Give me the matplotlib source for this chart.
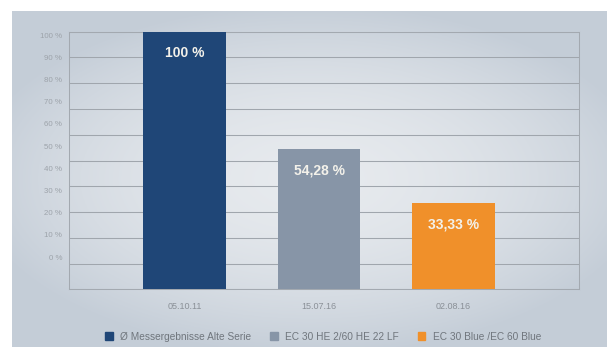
import numpy as np
import matplotlib.pyplot as plt
from matplotlib.patches import Patch

plt.rcParams['font.family'] = ['Liberation Sans', 'DejaVu Sans']

dates = ['05.10.11', '15.07.16', '02.08.16']
values = [100, 54.28, 33.33]
value_labels = ['100 %', '54,28 %', '33,33 %']
series = ['Ø Messergebnisse Alte Serie', 'EC 30 HE 2/60 HE 22 LF', 'EC 30 Blue /EC 60 Blue']
colors = ['#1f4677', '#8795a7', '#f0902a']
pct_ticks = list(range(0, 101, 10))
pct_labels = ['%d %%' % p for p in pct_ticks]

fig = plt.figure(figsize=(6.07, 3.47), dpi=100)

# background with soft radial gradient
bg = fig.add_axes([12 / 607, 0, 1 - 12 / 607, 1 - 11 / 347], zorder=-1)
yy, xx = np.mgrid[-1:1:200j, -1:1:350j]
r = np.sqrt((xx / 1.15) ** 2 + (yy / 1.05) ** 2)
light = np.array([0.905, 0.918, 0.933])
dark = np.array([0.770, 0.805, 0.845])
t = np.clip(r, 0, 1)[..., None] ** 1.8
img = light * (1 - t) + dark * t
bg.imshow(img, aspect='auto', extent=[0, 1, 0, 1])
bg.axis('off')

ax = fig.add_axes([69.3 / 607, 1 - 289.3 / 347, (579 - 69.3) / 607, (289.3 - 31.7) / 347])
ax.set_facecolor('none')
x = np.arange(len(dates))
bars = ax.bar(x, values, width=0.613, color=colors, zorder=3)
ax.set_xlim(-0.858, 2.932)
ax.set_ylim(0, 100)
ax.set_yticks(pct_ticks)
ax.set_yticklabels([])
ax.tick_params(axis='y', length=0)
ax.grid(axis='y', color='#a0a6ad', linewidth=0.75)
ax.set_axisbelow(True)
for s in ax.spines.values():
    s.set_color('#a3a9b0')
    s.set_linewidth(0.75)
ax.set_xticks(x)
ax.set_xticklabels(dates)
ax.tick_params(axis='x', length=0, pad=9, labelsize=6.5, labelcolor='#8a9097')

for b, lab in zip(bars, value_labels):
    ax.annotate(lab, (b.get_x() + b.get_width() / 2, b.get_height()),
                xytext=(0, -21), textcoords='offset pixels',
                ha='center', va='center', color='#f3f1ea', fontsize=10, fontweight='bold', zorder=4)

# percent labels (not aligned with grid, as in the original)
ax2 = ax.twinx()
ax2.set_ylim(-14.5, 101.5)
ax2.yaxis.tick_left()
ax2.set_yticks(pct_ticks)
ax2.set_yticklabels(pct_labels)
ax2.tick_params(axis='y', length=0, pad=5, labelsize=5.7, labelcolor='#9da3aa')
for s in ax2.spines.values():
    s.set_visible(False)

handles = [Patch(color=c) for c in colors]
fig.legend(handles, series, loc='center', bbox_to_anchor=(323 / 607, 1 - 336.5 / 347), ncol=3,
           frameon=False, fontsize=7.3, handlelength=0.75, handleheight=0.75,
           handletextpad=0.7, columnspacing=1.9, labelcolor='#70767d')

fig.savefig('out.png', dpi=100)
